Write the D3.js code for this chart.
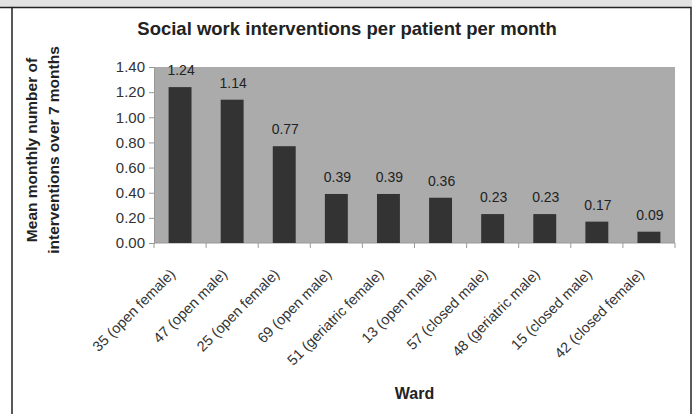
<!DOCTYPE html>
<html>
<head>
<meta charset="utf-8">
<script src="https://cdn.jsdelivr.net/npm/d3@7"></script>
<style>
  body { margin: 0; background: #fff; }
  text { font-family: "Liberation Sans", Arial, sans-serif; }
</style>
</head>
<body>
<svg id="chart" width="696" height="414"></svg>
<script>
// wards, in the order shown on the chart
var wards = ['35 (open female)', '47 (open male)', '25 (open female)', '69 (open male)',
  '51 (geriatric female)', '13 (open male)', '57 (closed male)', '48 (geriatric male)',
  '15 (closed male)', '42 (closed female)'];
var interventions = [1.24, 1.14, 0.77, 0.39, 0.39, 0.36, 0.23, 0.23, 0.17, 0.09];
var yTicks = [0, 0.2, 0.4, 0.6, 0.8, 1.0, 1.2, 1.4];

var svg = d3.select('#chart');
var margin = { top: 67, right: 21, bottom: 171, left: 154 };
var width = 696 - margin.left - margin.right;
var height = 414 - margin.top - margin.bottom;

// frame: grey strip on top, dark border lines
svg.append('rect').attr('x', 0).attr('y', 0)
  .attr('width', 692).attr('height', 7).attr('fill', '#e2e2e2');
svg.append('path')
  .attr('d', 'M12,414V7.5H691V414')
  .attr('fill', 'none').attr('stroke', '#222').attr('stroke-width', 1.5);
svg.append('line').attr('x1', 0).attr('x2', 12).attr('y1', 7.5).attr('y2', 7.5)
  .attr('stroke', '#222').attr('stroke-width', 1.5);

var g = svg.append('g').attr('transform', 'translate(' + margin.left + ',' + margin.top + ')');

var x = d3.scaleBand().domain(wards).range([0, width]).paddingInner(0.56).paddingOuter(0.28);
var y = d3.scaleLinear().domain([0, 1.4]).range([height, 0]);

// plot background
g.append('rect').attr('width', width).attr('height', height).attr('fill', '#ababab');

// y axis
var yAxis = g.append('g')
  .call(d3.axisLeft(y).tickValues(yTicks).tickFormat(d3.format('.2f')).tickSize(5).tickPadding(4));
yAxis.select('.domain').attr('stroke', '#999');
yAxis.selectAll('.tick line').attr('stroke', '#999');
yAxis.selectAll('text').attr('font-size', 15).attr('fill', '#333')
  .style('font-family', '"Liberation Sans", Arial, sans-serif');

// x axis, ticks at band boundaries
var xAxis = g.append('g').attr('transform', 'translate(0,' + height + ')');
xAxis.append('line').attr('x1', 0).attr('x2', width).attr('stroke', '#999');
xAxis.selectAll('.bound')
  .data(d3.range(wards.length + 1))
  .enter()
  .append('line')
  .attr('class', 'bound')
  .attr('x1', function(i) { return i * width / wards.length; })
  .attr('x2', function(i) { return i * width / wards.length; })
  .attr('y1', 0).attr('y2', 5)
  .attr('stroke', '#999');

xAxis.selectAll('.wlabel')
  .data(wards)
  .enter()
  .append('text')
  .attr('class', 'wlabel')
  .attr('text-anchor', 'end')
  .attr('font-size', 14.5)
  .attr('fill', '#333')
  .attr('transform', function(d) {
    return 'translate(' + (x(d) + x.bandwidth() / 2 - 4) + ',32) rotate(-45)';
  })
  .text(function(d) { return d; });

// bars
g.selectAll('.bar')
  .data(interventions)
  .enter()
  .append('rect')
  .attr('class', 'bar')
  .attr('x', function(d, i) { return x(wards[i]); })
  .attr('y', function(d) { return y(d); })
  .attr('width', x.bandwidth())
  .attr('height', function(d) { return height - y(d); })
  .attr('fill', '#333');

// value labels
g.selectAll('.val')
  .data(interventions)
  .enter()
  .append('text')
  .attr('class', 'val')
  .attr('text-anchor', 'middle')
  .attr('font-size', 14)
  .attr('fill', '#222')
  .attr('x', function(d, i) { return x(wards[i]) + x.bandwidth() / 2 + 1; })
  .attr('y', function(d) { return y(d) - 12; })
  .text(function(d) { return d3.format('.2f')(d); });

// title
svg.append('text')
  .attr('x', 347).attr('y', 35)
  .attr('text-anchor', 'middle')
  .attr('font-size', 18.5).attr('font-weight', 'bold').attr('fill', '#222')
  .text('Social work interventions per patient per month');

// y axis title (two lines)
var yTitle = svg.append('text')
  .attr('transform', 'translate(37,150) rotate(-90)')
  .attr('text-anchor', 'middle')
  .attr('font-size', 15.5).attr('font-weight', 'bold').attr('fill', '#222');
yTitle.append('tspan').attr('x', 0).attr('dy', 0).text('Mean monthly number of');
yTitle.append('tspan').attr('x', 0).attr('dy', 22).text('interventions over 7 months');

// x axis title
svg.append('text')
  .attr('x', margin.left + width / 2).attr('y', 399)
  .attr('text-anchor', 'middle')
  .attr('font-size', 16).attr('font-weight', 'bold').attr('fill', '#222')
  .text('Ward');
</script>
</body>
</html>
